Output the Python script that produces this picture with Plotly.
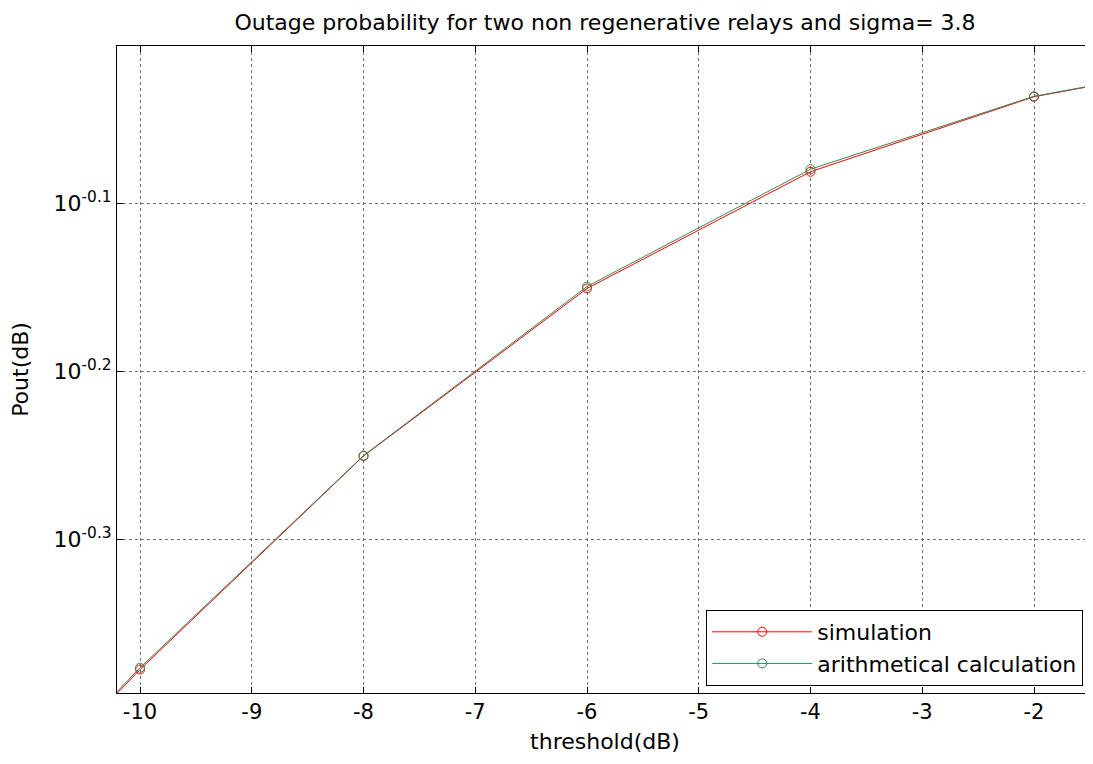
import plotly.graph_objects as go

threshold_db = [-12, -10, -8, -6, -4, -2, 0]
simulation = [0.3048, 0.4190, 0.5617, 0.7070, 0.8299, 0.9199, 0.9734]
arithmetical = [0.3050, 0.4200, 0.5620, 0.7089, 0.8328, 0.9205, 0.9736]

y_tick_vals = [10 ** -0.3, 10 ** -0.2, 10 ** -0.1]
y_tick_text = ["10<sup>-0.3</sup>", "10<sup>-0.2</sup>", "10<sup>-0.1</sup>"]
x_tick_vals = [-10, -9, -8, -7, -6, -5, -4, -3, -2]
x_tick_text = ["-10", "-9", "-8", "-7", "-6", "-5", "-4", "-3", "-2"]

FONT = "DejaVu Sans"

fig = go.Figure()
fig.add_trace(go.Scatter(
    x=threshold_db, y=simulation, name="simulation",
    mode="lines+markers",
    line=dict(color="#ff0000", width=1),
    marker=dict(symbol="circle-open", size=9, color="#ff0000", line=dict(width=1)),
))
fig.add_trace(go.Scatter(
    x=threshold_db, y=arithmetical, name="arithmetical calculation",
    mode="lines+markers",
    line=dict(color="#2e8b57", width=1),
    marker=dict(symbol="circle-open", size=9, color="#2e8b57", line=dict(width=1)),
))

# page body has an 8px default margin; compensate so the figure lines up
fig.update_layout(
    width=1085, height=756,
    margin=dict(l=109, r=0, t=38, b=71),
    paper_bgcolor="white", plot_bgcolor="white",
    font=dict(family=FONT, color="black", size=20),
    title=dict(
        text="Outage probability for two non regenerative relays and sigma= 3.8",
        x=(605 - 8) / 1085, xanchor="center", y=1 - 14 / 756, yanchor="middle",
        font=dict(family=FONT, size=22, color="black"),
    ),
    showlegend=True,
    legend=dict(
        x=0.990, xanchor="right", y=0.0108, yanchor="bottom",
        bgcolor="white", bordercolor="black", borderwidth=1,
        font=dict(family=FONT, size=22, color="black"),
        itemwidth=100, tracegroupgap=0,
    ),
)

fig.update_xaxes(
    range=[-10.206, -1.472],
    tickvals=x_tick_vals, ticktext=x_tick_text,
    tickfont=dict(family=FONT, size=21),
    ticks="inside", ticklen=6, tickcolor="black",
    showline=True, linecolor="black", linewidth=1, mirror="ticks",
    showgrid=True, gridcolor="#6f6f6f", griddash="dot", gridwidth=1,
    zeroline=False,
    title=dict(text="threshold(dB)", font=dict(family=FONT, size=22), standoff=10),
)
fig.update_yaxes(
    type="log",
    range=[-0.3918, -0.006],
    tickvals=y_tick_vals, ticktext=y_tick_text,
    tickfont=dict(family=FONT, size=22),
    ticks="inside", ticklen=6, tickcolor="black",
    showline=True, linecolor="black", linewidth=1, mirror="ticks",
    showgrid=True, gridcolor="#6f6f6f", griddash="dot", gridwidth=1,
    zeroline=False,
    title=dict(text="Pout(dB)", font=dict(family=FONT, size=22), standoff=18),
)

fig.write_html("out.html")
